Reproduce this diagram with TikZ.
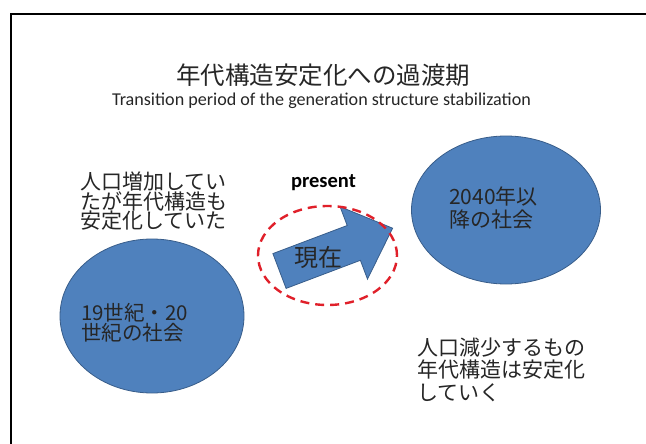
\documentclass[tikz,border=0pt]{standalone}
\usepackage{fontspec}
\newfontfamily\jpfont{Noto Sans CJK JP}
\newfontfamily\calfont{Carlito}
\usetikzlibrary{shapes.geometric}
\definecolor{boxblue}{HTML}{4F81BD}
\definecolor{boxedge}{HTML}{385D8A}
\definecolor{dashred}{HTML}{E0202A}
\definecolor{txt}{HTML}{262626}
\tikzset{
  blob/.style={ellipse, fill=boxblue, draw=boxedge, line width=0.8pt, inner sep=0pt},
  jptext/.style={align=left, inner sep=0pt, text=txt, anchor=west,
    font=\jpfont\fontsize{21}{21}\selectfont},
}
\begin{document}
\begin{tikzpicture}[x=1pt,y=-1pt]
\useasboundingbox (0,0) rectangle (646,444);
\fill[white] (0,0) rectangle (646,444);
% frame
\draw[line width=2.6pt, black] (11,444) -- (11,14) -- (646,14);
% titles
\node[inner sep=0pt, text=txt, font=\jpfont\fontsize{24.5}{26}\selectfont] (title) at (323,75) {年代構造安定化への過渡期};
\node[inner sep=0pt, text=txt, font=\calfont\fontsize{18.1}{20}\selectfont] (subtitle) at (321.5,101) {Transition period of the generation structure stabilization};
% ellipses
\node[blob, minimum width=184pt, minimum height=154pt] (past) at (152,316) {};
\node[blob, minimum width=189pt, minimum height=148pt] (future) at (506,210) {};
% texts
\node[jptext, font=\jpfont\fontsize{21}{19.5}\selectfont] (pasttop) at (80,201.5) {人口増加してい\\たが年代構造も\\安定化していた};
\node[jptext, font=\jpfont\fontsize{20.5}{19.5}\selectfont] (pastlbl) at (81,322.5) {19世紀・20\\世紀の社会};
\node[jptext, font=\jpfont\fontsize{21}{23}\selectfont] (futlbl) at (449,208.5) {2040年以\\降の社会};
\node[jptext, font=\jpfont\fontsize{21}{22.5}\selectfont] (futbot) at (417,369.5) {人口減少するもの\\年代構造は安定化\\していく};
% arrow
\filldraw[fill=boxblue, draw=boxedge, line width=0.8pt]
  (272.9,253.6) -- (347.2,225.5) -- (340.1,206.7) -- (392.6,228.2)
  -- (367.5,279.1) -- (360.4,260.3) -- (286.1,288.4) -- cycle;
\node[inner sep=0pt, text=txt, font=\jpfont\fontsize{24}{26}\selectfont] (now) at (318,257) {現在};
\node[inner sep=0pt, text=black, font=\calfont\bfseries\fontsize{20.5}{22}\selectfont] (present) at (323.5,183) {present};
% dashed ring
\draw[dashred, line width=2.4pt, dash pattern=on 9pt off 6pt] (327.5,255.5) ellipse [x radius=69.5pt, y radius=49.5pt];
\end{tikzpicture}
\end{document}
